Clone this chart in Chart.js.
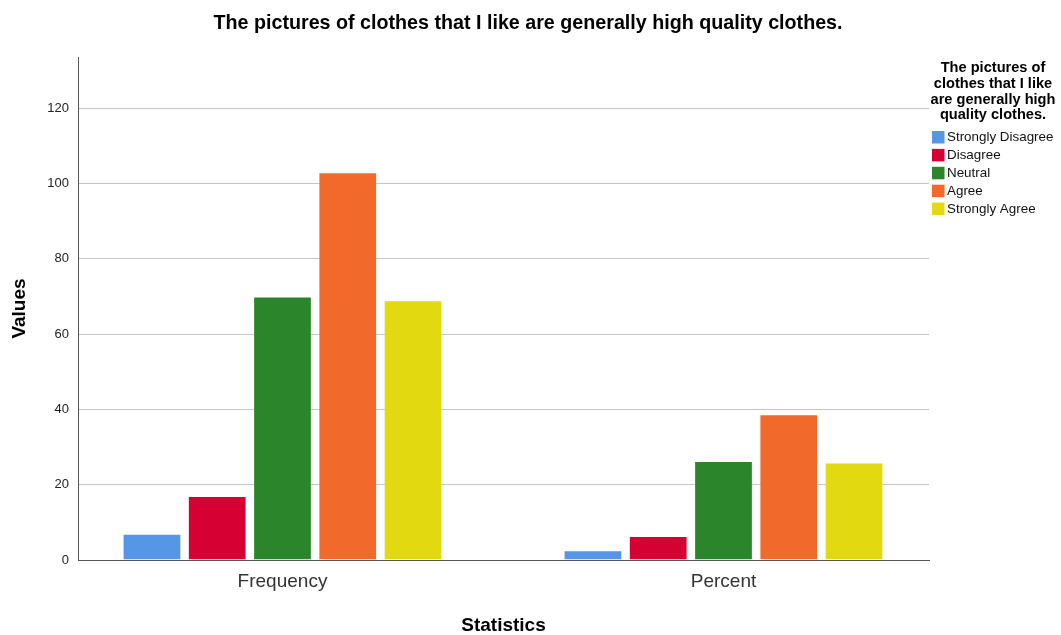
<!DOCTYPE html>
<html>
<head>
<meta charset="utf-8">
<title>Clothes quality survey</title>
<script src="https://cdn.jsdelivr.net/npm/chart.js@4.4.1/dist/chart.umd.min.js"></script>
<style>
  body { margin: 0; background: #fff; }
  #wrap { width: 1061px; height: 635px; position: relative; }
</style>
</head>
<body>
<div id="wrap"><canvas id="chart"></canvas></div>
<script>
const chartTitle = 'The pictures of clothes that I like are generally high quality clothes.';
const legendTitle = ['The pictures of', 'clothes that I like', 'are generally high', 'quality clothes.'];
const statistics = ['Frequency', 'Percent'];
const responses = ['Strongly Disagree', 'Disagree', 'Neutral', 'Agree', 'Strongly Agree'];
const frequency = [7, 17, 70, 103, 69];
const percent = [2.6, 6.4, 26.3, 38.7, 25.9];
const yTicks = [0, 20, 40, 60, 80, 100, 120];
const colors = ['#5696e6', '#d60032', '#2a852b', '#f2692c', '#e2d911'];

const FONT = '"Liberation Sans", Arial, sans-serif';

// one dataset per answer, x = 0 for Frequency and 1 for Percent
const datasets = responses.map((label, i) => ({
  label,
  data: [{ x: 0, y: frequency[i] }, { x: 1, y: percent[i] }],
  backgroundColor: colors[i],
  borderColor: 'rgba(255,255,255,0.3)',
  borderWidth: 1
}));

// main title and the legend block on the right are painted by hand
const decorations = {
  id: 'decorations',
  afterDraw(chart) {
    const ctx = chart.ctx;
    ctx.save();
    ctx.fillStyle = '#000';
    ctx.textAlign = 'center';
    ctx.textBaseline = 'middle';
    ctx.font = 'bold 19.7px ' + FONT;
    ctx.fillText(chartTitle, 528, 24);

    ctx.font = 'bold 14.6px ' + FONT;
    legendTitle.forEach((line, i) => ctx.fillText(line, 993, 68 + i * 15.8));

    ctx.textAlign = 'left';
    ctx.font = '13.4px ' + FONT;
    responses.forEach((label, i) => {
      const y = 131 + i * 17.9;
      ctx.fillStyle = colors[i];
      ctx.fillRect(932, y, 12.5, 12.5);
      ctx.fillStyle = '#111';
      ctx.fillText(label, 947, y + 6.5);
    });
    ctx.restore();
  }
};

new Chart(document.getElementById('chart'), {
  type: 'bar',
  data: { datasets },
  plugins: [decorations],
  options: {
    responsive: true,
    maintainAspectRatio: false,
    animation: false,
    layout: { padding: { top: 57, right: 132, bottom: 0, left: 0 } },
    datasets: {
      bar: { barPercentage: 0.9, categoryPercentage: 0.74 }
    },
    plugins: {
      legend: { display: false },
      title: { display: false },
      tooltip: { enabled: false }
    },
    scales: {
      x: {
        type: 'linear',
        offset: false,
        bounds: 'data',
        min: -0.4637,
        max: 1.466,
        afterBuildTicks: axis => { axis.ticks = statistics.map((_, i) => ({ value: i })); },
        afterFit: axis => { axis.height = 75; },
        grid: { display: false, drawTicks: false, offset: false },
        border: { display: true, color: '#555', width: 1 },
        ticks: {
          callback: v => statistics[v],
          font: { family: FONT, size: 19 },
          color: '#333',
          padding: 10,
          autoSkip: false,
          maxRotation: 0
        },
        title: {
          display: true,
          text: 'Statistics',
          font: { family: FONT, size: 19, weight: 'bold', lineHeight: 1 },
          color: '#000',
          padding: 0
        }
      },
      y: {
        min: 0,
        max: 133.6,
        afterBuildTicks: axis => { axis.ticks = yTicks.map(v => ({ value: v })); },
        afterFit: axis => { axis.width = 78; },
        grid: { color: '#c4c4c4', drawTicks: false },
        border: { display: true, color: '#555', width: 1 },
        ticks: { font: { family: FONT, size: 13 }, color: '#222', padding: 9 },
        title: {
          display: true,
          text: 'Values',
          font: { family: FONT, size: 19, weight: 'bold' },
          color: '#000',
          padding: { top: 8, bottom: 0 }
        }
      }
    }
  }
});
</script>
</body>
</html>
